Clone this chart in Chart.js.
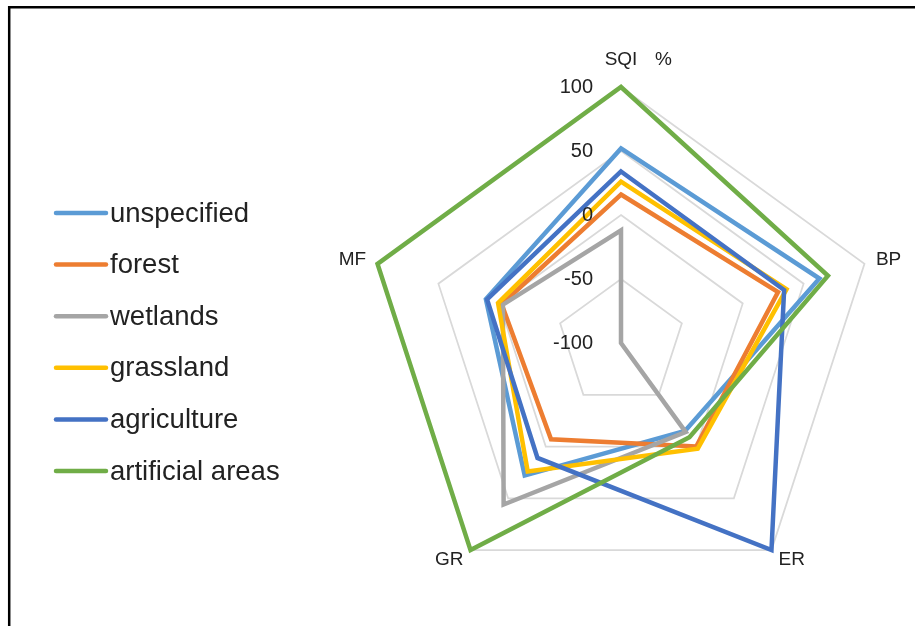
<!DOCTYPE html>
<html>
<head>
<meta charset="utf-8">
<script src="https://cdn.jsdelivr.net/npm/chart.js@4.4.1/dist/chart.umd.min.js"></script>
<style>
  html, body { margin: 0; padding: 0; background: #ffffff; }
  #wrap { position: relative; width: 915px; height: 626px; }
  canvas { display: block; }
</style>
</head>
<body>
<div id="wrap"><canvas id="c" width="915" height="626"></canvas></div>
<script>
// Axes of the radar (clockwise from the top)
const categories = ['SQI', 'BP', 'ER', 'GR', 'MF'];
const unitLabel = '%';
const tickValues = [100, 50, 0, -50, -100];

// Series values, one per axis in the order above
const seriesNames = ['unspecified', 'forest', 'wetlands', 'grassland', 'agriculture', 'artificial areas'];
const unspecified     = [52, 63, -15, 28, 11];
const forest          = [16, 29, 0, -7, -2];
const wetlands        = [-12, -100, -14, 56, -3];
const grassland       = [26, 36, 2, 24, 1];
const agriculture     = [34, 34, 100, 11, 10];
const artificialAreas = [100, 70, -9, 100, 100];
const seriesColors = ['#5B9BD5', '#ED7D31', '#A5A5A5', '#FFC000', '#4472C4', '#70AD47'];

const seriesValues = [unspecified, forest, wetlands, grassland, agriculture, artificialAreas];
const FONT = '"Liberation Sans", Arial, sans-serif';
const TEXT = '#222222';

const datasets = seriesNames.map((name, i) => ({
  label: name,
  data: seriesValues[i],
  borderColor: seriesColors[i],
  backgroundColor: seriesColors[i],
  borderWidth: 4.5,
  borderJoinStyle: 'miter',
  pointRadius: 0,
  pointHoverRadius: 0,
  fill: false,
  tension: 0,
  order: seriesNames.length - i   // later series drawn on top
}));

// Frame, legend, tick labels and axis titles drawn around the radar
const overlay = {
  id: 'overlay',
  beforeDraw(chart) {
    const ctx = chart.ctx;
    ctx.save();
    ctx.strokeStyle = '#000000';
    ctx.lineWidth = 2.5;
    ctx.beginPath();
    ctx.moveTo(9.2, 626);
    ctx.lineTo(9.2, 7.2);
    ctx.lineTo(915, 7.2);
    ctx.stroke();
    ctx.restore();
  },
  afterDatasetsDraw(chart) {
    const ctx = chart.ctx;
    const s = chart.scales.r;
    ctx.save();
    ctx.fillStyle = TEXT;

    // radial tick labels, to the left of the vertical axis
    ctx.font = '20px ' + FONT;
    ctx.textAlign = 'right';
    ctx.textBaseline = 'middle';
    tickValues.forEach(v => {
      const y = s.yCenter - s.getDistanceFromCenterForValue(v);
      ctx.fillText(String(v), s.xCenter - 28, y);
    });

    // axis titles
    ctx.font = '19px ' + FONT;
    categories.forEach((c, i) => {
      const top = i === 0;
      const p = s.getPointPosition(i, top ? 283 : s.drawingArea + 12);
      const cos = Math.cos(p.angle);
      ctx.textAlign = cos > 0.1 ? 'left' : (cos < -0.1 ? 'right' : 'center');
      ctx.textBaseline = 'middle';
      ctx.fillText(c, p.x, p.y);
      if (top) {
        ctx.textAlign = 'left';
        ctx.fillText(unitLabel, p.x + 34, p.y);
      }
    });

    // legend
    ctx.font = '27.5px ' + FONT;
    ctx.textAlign = 'left';
    ctx.textBaseline = 'middle';
    ctx.lineCap = 'round';
    seriesNames.forEach((name, i) => {
      const y = 213 + i * 51.6;
      ctx.strokeStyle = seriesColors[i];
      ctx.lineWidth = 4.5;
      ctx.beginPath();
      ctx.moveTo(56, y);
      ctx.lineTo(106, y);
      ctx.stroke();
      ctx.fillStyle = TEXT;
      ctx.fillText(name, 110, y + 1);
    });
    ctx.restore();
  }
};

new Chart(document.getElementById('c'), {
  type: 'radar',
  data: { labels: categories, datasets },
  options: {
    responsive: false,
    animation: false,
    devicePixelRatio: 1,
    layout: { padding: { left: 365, top: 87, right: 38, bottom: 27 } },
    plugins: { legend: { display: false }, tooltip: { enabled: false }, title: { display: false } },
    elements: { line: { borderJoinStyle: 'miter' } },
    scales: {
      r: {
        min: -100,
        max: 100,
        ticks: { display: false, stepSize: 50 },
        pointLabels: { display: false },
        angleLines: { display: false },
        grid: { color: '#D9D9D9', lineWidth: 1.75 }
      }
    }
  },
  plugins: [overlay]
});
</script>
</body>
</html>
